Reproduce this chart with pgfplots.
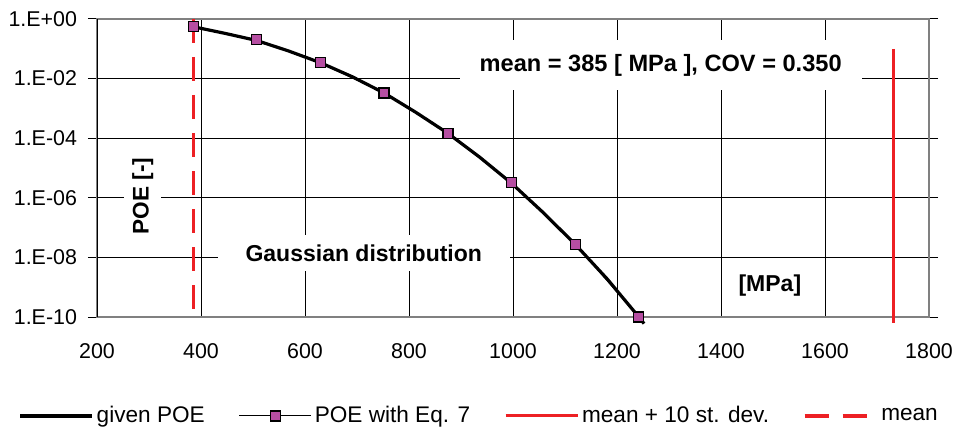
\documentclass[border=0pt]{standalone}
\usepackage{pgfplots}
\pgfplotsset{compat=1.18}
\usepackage{fontspec}
\setmainfont{Liberation Sans}

\definecolor{poered}{RGB}{237,32,36}
\definecolor{poemark}{RGB}{182,78,162}
\definecolor{frame}{RGB}{128,128,128}

\begin{document}
\begin{tikzpicture}
\begin{axis}[
  scale only axis, width=416pt, height=149pt,
  xmin=200, xmax=1800, ymin=1e-10, ymax=1, ymode=log,
  xtick={200,400,...,1800},
  ytick={1e-10,1e-8,1e-6,1e-4,1e-2,1},
  yticklabels={1.E-10,1.E-08,1.E-06,1.E-04,1.E-02,1.E+00},
  yminorticks=false,
  grid=major, major grid style={black, line width=0.5pt},
  axis line style={draw=frame, line width=0.9pt},
  xtick style={draw=none},
  ytick style={black, line width=0.5pt},
  ytick align=outside, major tick length=4.5pt,
  yticklabel shift=2pt, xticklabel shift=9.5pt,
  ticklabel style={font=\fontsize{10.7}{12}\selectfont},
  /pgf/number format/assume math mode=true,
  /pgf/number format/1000 sep={},
  clip=false,
  legend columns=4,
  legend style={at={(axis description cs:-0.102,-0.332)}, anchor=west,
    draw=none, fill=none, font=\fontsize{11.3}{13}\selectfont,
    nodes={inner sep=1.5pt},
    /tikz/every even column/.append style={column sep=15.5pt}},
  legend image code/.code={\draw[mark repeat=2,mark phase=2,#1]
    plot coordinates {(0pt,0pt) (18pt,0pt) (36pt,0pt)};},
]
\draw[black, line width=0.5pt] (rel axis cs:0,0) -- (rel axis cs:0,1);

% given POE
\addplot[black, line width=1.6pt, no marks] coordinates {
  (385,0.55) (446,0.33) (507,0.19) (568,0.085) (630,0.034) (691,0.0115)
  (752,0.0033) (813,7.4e-4) (875,1.45e-4) (936,2.3e-5) (997,3.1e-6)
  (1058,3.2e-7) (1120,2.7e-8) (1181,1.9e-9) (1242,1e-10) (1252,6e-11)};
\addlegendentry{given POE}

% POE with Eq. 7
\addplot[black, line width=0.5pt, mark=square*,
  mark options={fill=poemark, draw=black, line width=0.6pt}, mark size=2.5pt]
  coordinates {
  (385,0.55) (507,0.2) (630,0.034) (752,0.0033) (875,1.45e-4)
  (997,3.2e-6) (1120,2.75e-8) (1242,1e-10)};
\addlegendentry{POE with Eq. 7}

% mean + 10 st. dev.
\addplot[poered, line width=1.5pt, no marks] coordinates {
  (1731,0.1) (1731,6.3e-11)};
\addlegendentry{mean + 10 st. dev.}

% mean
\addplot[poered, line width=1.6pt, no marks, dash pattern=on 12pt off 7pt] coordinates {
  (385,1) (385,1e-10)};
\addlegendentry{mean}

\node[fill=white, inner xsep=8pt, inner ysep=4pt, rotate=90,
  font=\fontsize{11.3}{13}\selectfont\bfseries] at (axis cs:288,1.15e-6) {POE [-]};
\node[fill=white, inner xsep=14pt, inner ysep=5pt,
  font=\fontsize{11.5}{13}\selectfont\bfseries] at (axis cs:713,1.4e-8) {Gaussian distribution};
\node[fill=white, inner xsep=10pt, inner ysep=7pt,
  font=\fontsize{11.8}{13}\selectfont\bfseries] at (axis cs:1284,0.0288) {mean = 385 [ MPa ], COV = 0.350};
\node[font=\fontsize{11.5}{13}\selectfont\bfseries] at (axis cs:1494,1.18e-9) {[MPa]};

\coordinate (bl) at (rel axis cs:0,0);
\coordinate (tr) at (rel axis cs:1,1);
\end{axis}
\pgfresetboundingbox
\path ([shift={(-48.5pt,-55pt)}]bl) rectangle ([shift={(16pt,9.5pt)}]tr);
\end{tikzpicture}
\end{document}
